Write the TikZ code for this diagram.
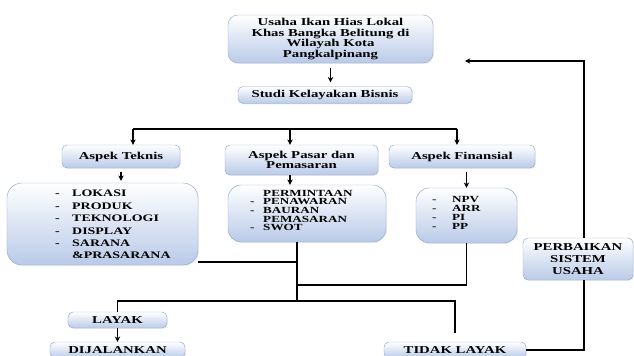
\documentclass[tikz,border=0pt]{standalone}
\usepackage{fontspec}
\setmainfont{Liberation Serif}[FakeStretch=1.4]
\usetikzlibrary{arrows.meta,shadows}

\definecolor{kotakbiru}{RGB}{185,202,232}
\definecolor{kotaktepi}{RGB}{150,168,205}
\newcommand{\butir}[2][5mm]{\makebox[#1][l]{-}#2}
\newcommand{\lanjut}[2][5mm]{\hspace*{#1}#2}
\newcommand{\huruf}[2]{\bfseries\fontsize{#1}{#2}\selectfont}

\begin{document}
\begin{tikzpicture}[x=0.3mm, y=-0.3mm,
  kotak/.style={
    draw=kotaktepi, top color=white, bottom color=kotakbiru,
    rounded corners=1.5mm, align=center, inner sep=0pt,
    font=\huruf{9}{9},
    drop shadow={opacity=0.15, shadow xshift=0.8pt, shadow yshift=-0.8pt},
  },
  daftar/.style={anchor=north west, align=left, inner sep=0pt},
  garis/.style={line width=0.9pt},
  panah/.style={garis, -{Stealth[length=4.5pt, width=4.5pt]}},
  ]
  \useasboundingbox (0,0) rectangle (634,356);

  \node[kotak, minimum width=61.5mm, minimum height=14.4mm, rounded corners=3mm] (usaha) at (330.5,39)
    {Usaha Ikan Hias Lokal\\Khas Bangka Belitung di\\Wilayah Kota\\Pangkalpinang};
  \node[kotak, minimum width=52.2mm, minimum height=5.1mm] (studi) at (325,95) {Studi Kelayakan Bisnis};

  \node[kotak, minimum width=35.4mm, minimum height=6.9mm] (teknis) at (121,156.5) {Aspek Teknis};
  \node[kotak, minimum width=45.9mm, minimum height=9mm] (pasar) at (301.5,160) {Aspek Pasar dan\\Pemasaran};
  \node[kotak, minimum width=43.8mm, minimum height=6.9mm] (finansial) at (462,156.5) {Aspek Finansial};

  \node[kotak, minimum width=57.3mm, minimum height=24.6mm, rounded corners=4.5mm] (tlist) at (102.5,224) {};
  \node[daftar, font=\huruf{8.5}{10.6}] (tteks) at (55,190)
    {\butir[5.1mm]{LOKASI}\\\butir[5.1mm]{PRODUK}\\\butir[5.1mm]{TEKNOLOGI}\\
     \butir[5.1mm]{DISPLAY}\\\butir[5.1mm]{SARANA}\\\lanjut[5.1mm]{\&PRASARANA}};
  \node[kotak, minimum width=47.4mm, minimum height=17.1mm, rounded corners=4mm] (plist) at (307,213.5) {};
  \node[daftar, font=\huruf{8}{7.3}] (pteks) at (250,190)
    {\lanjut[3.9mm]{PERMINTAAN}\\\butir[3.9mm]{PENAWARAN}\\\butir[3.9mm]{BAURAN}\\
     \lanjut[3.9mm]{PEMASARAN}\\\butir[3.9mm]{SWOT}};
  \node[kotak, minimum width=30.3mm, minimum height=16.5mm, rounded corners=4mm] (flist) at (466.5,215.5) {};
  \node[daftar, font=\huruf{8}{7.7}] (fteks) at (432,196)
    {\butir[6mm]{NPV}\\\butir[6mm]{ARR}\\\butir[6mm]{PI}\\\butir[6mm]{PP}};

  \node[kotak, minimum width=33mm, minimum height=12.6mm, font=\huruf{9}{10.3}] (perbaikan) at (578,259)
    {PERBAIKAN\\SISTEM\\USAHA};
  \node[kotak, minimum width=29.7mm, minimum height=4.8mm] (layak) at (117.5,320) {LAYAK};
  \node[kotak, minimum width=40.5mm, minimum height=4.8mm] (jalan) at (117.5,350) {DIJALANKAN};
  \node[kotak, minimum width=42.6mm, minimum height=4.8mm] (tidak) at (455,350) {TIDAK LAYAK};

  \coordinate (barL) at (133,129);
  \coordinate (barM) at (290,129);
  \coordinate (barR) at (457,129);
  \coordinate (tjoin) at (297,262);
  \coordinate (fjoin) at (297,285);
  \coordinate (jn) at (297,301);
  \coordinate (balik) at (584,61);
  \coordinate (ujung) at (465,61);

  \draw[panah, shorten <=1.5mm, shorten >=1.2mm] (usaha.south) -- (usaha.south |- studi.north);
  \draw[garis] (barL) -- (barR);
  \foreach \b/\n in {barL/teknis, barM/pasar, barR/finansial}
    \draw[panah] (\b) -- (\b |- \n.north);
  % \draw[panah] (studi.south) -- (barM);
  \draw[panah, shorten <=1mm, shorten >=0.6mm] (teknis.south) -- (teknis.south |- tlist.north);
  \draw[panah] (pasar.south -| barM) -- (plist.north -| barM);
  \draw[panah, shorten <=1mm] (finansial.south -| flist.north) -- (flist.north);

  \draw[garis] (plist.south -| jn) -- (jn);
  \draw[garis] (tlist.east |- tjoin) -- (tjoin);
  \draw[garis] (flist.south) |- (fjoin);
  \draw[garis, shorten >=2.7mm] (layak.north) |- (jn) -| (tidak.north);
  \draw[panah] (layak.south) -- (jalan.north);
  \draw[garis] (tidak.east) -| (perbaikan.south -| balik);
  \draw[panah] (perbaikan.north -| balik) -- (balik) -- (ujung);
\end{tikzpicture}
\end{document}
